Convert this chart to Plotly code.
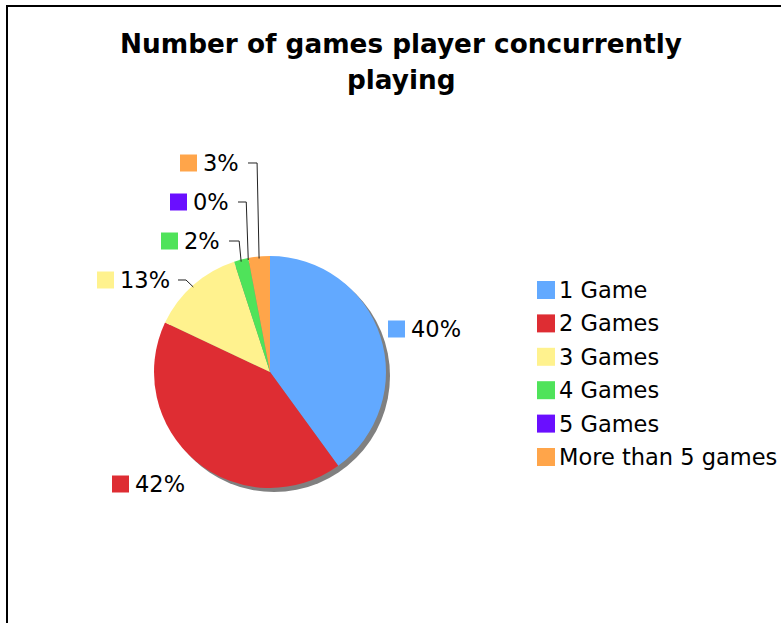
import math
import plotly.graph_objects as go

# ---------------- data ----------------
categories = ["1 Game", "2 Games", "3 Games", "4 Games", "5 Games", "More than 5 games"]
shares = [40, 42, 13, 2, 0, 3]
colors = ["#62a9ff", "#de2d33", "#fff28e", "#4fe35a", "#6a0fff", "#ffa54a"]
title_lines = ["Number of games player concurrently", "playing"]

# ---------------- layout constants (pixels) ----------------
W, H = 781, 623
CX, CY, R = 270, 372, 116          # pie centre / radius
SHADOW = 4
FONT = "DejaVu Sans"
LBL_SIZE = 22.5
TITLE_SIZE = 26.3
# label square left x, label centre y, leader style per slice
label_pos = [
    (388, 329, None),
    (112, 484, None),
    (97, 280, "diag"),
    (161, 241, "elbow"),
    (170, 202, "elbow"),
    (180, 163, "elbow"),
]
leader_start_x = [None, None, 178, 229, 238, 248]
LEG_X, LEG_Y0, LEG_STEP = 537, 290, 33.4
SQ = 18


def px(x):
    return x / W


def py(y):
    return 1 - y / H


fig = go.Figure()
fig.add_trace(go.Pie(
    values=shares, labels=categories, sort=False, direction="clockwise",
    rotation=0, marker=dict(colors=colors, line=dict(width=0)),
    textinfo="none", hoverinfo="label+percent", showlegend=False,
    domain=dict(x=[px(CX - R), px(CX + R)], y=[py(CY + R), py(CY - R)]),
))

shapes = []
annotations = []

# frame
shapes.append(dict(type="rect", xref="paper", yref="paper",
                   x0=px(7), x1=1.05, y0=-0.05, y1=py(6),
                   line=dict(color="#000", width=2), fillcolor="rgba(0,0,0,0)",
                   layer="below"))
# shadow
shapes.append(dict(type="circle", xref="paper", yref="paper",
                   x0=px(CX - R + SHADOW), x1=px(CX + R + SHADOW),
                   y0=py(CY + R + SHADOW), y1=py(CY - R + SHADOW),
                   line=dict(width=0), fillcolor="#808080", layer="below"))

# title
for i, t in enumerate(title_lines):
    annotations.append(dict(text="<b>%s</b>" % t, xref="paper", yref="paper",
                            x=px(401), y=py(44 + 36 * i), xanchor="center", yanchor="middle",
                            showarrow=False, font=dict(family=FONT, size=TITLE_SIZE, color="#000")))

# data labels
total = sum(shares)
cum = 0
for i, v in enumerate(shares):
    mid = (cum + v / 2) / total * 360
    cum += v
    ex = CX + R * math.sin(math.radians(mid))
    ey = CY - R * math.cos(math.radians(mid))
    sx, ly, style = label_pos[i]
    pct = round(v / total * 100)
    shapes.append(dict(type="rect", xref="paper", yref="paper",
                       x0=px(sx), x1=px(sx + SQ - 1), y0=py(ly + SQ / 2 - 0.5), y1=py(ly - SQ / 2 + 0.5),
                       line=dict(width=0), fillcolor=colors[i]))
    annotations.append(dict(text="%d%%" % pct, xref="paper", yref="paper",
                            x=px(sx + SQ + 3), y=py(ly), xanchor="left", yanchor="middle",
                            showarrow=False, font=dict(family=FONT, size=LBL_SIZE, color="#000")))
    if style == "elbow":
        x0 = leader_start_x[i]
        path = "M %f,%f L %f,%f L %f,%f" % (px(x0), py(ly), px(ex - 2), py(ly), px(ex), py(ey + 2))
        shapes.append(dict(type="path", xref="paper", yref="paper", path=path,
                           line=dict(color="#222", width=1)))
    elif style == "diag":
        x0 = leader_start_x[i]
        path = "M %f,%f L %f,%f L %f,%f" % (px(x0), py(ly), px(x0 + 8), py(ly), px(ex), py(ey + 2))
        shapes.append(dict(type="path", xref="paper", yref="paper", path=path,
                           line=dict(color="#222", width=1)))

# legend
for i, c in enumerate(categories):
    yc = LEG_Y0 + LEG_STEP * i
    shapes.append(dict(type="rect", xref="paper", yref="paper",
                       x0=px(LEG_X), x1=px(LEG_X + SQ), y0=py(yc + SQ / 2), y1=py(yc - SQ / 2),
                       line=dict(width=0), fillcolor=colors[i]))
    annotations.append(dict(text=c, xref="paper", yref="paper",
                            x=px(LEG_X + SQ + 2), y=py(yc), xanchor="left", yanchor="middle",
                            showarrow=False, font=dict(family=FONT, size=LBL_SIZE, color="#000")))

fig.update_layout(width=W, height=H, margin=dict(l=0, r=0, t=0, b=0),
                  paper_bgcolor="#fff", plot_bgcolor="#fff",
                  shapes=shapes, annotations=annotations, showlegend=False)
fig.write_html("out.html")
